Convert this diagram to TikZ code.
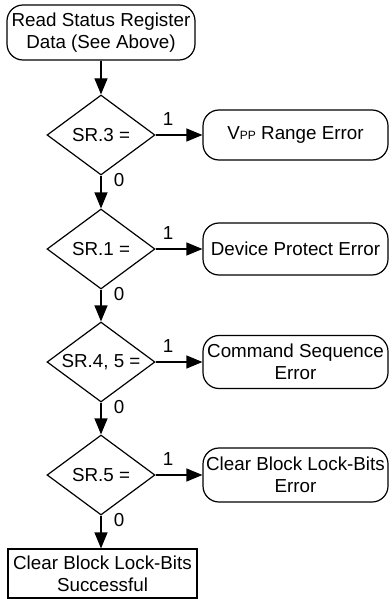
\documentclass[tikz,border=0pt]{standalone}
\usepackage{fontspec}
\setmainfont{Liberation Sans}
\usetikzlibrary{shapes.geometric,arrows.meta}
\tikzset{
  every node/.style={font=\fontsize{18.8}{22}\selectfont},
  rbox/.style={draw, line width=1.2pt, rounded corners=16pt, inner sep=0pt, align=center},
  sbox/.style={draw, line width=1.2pt, inner sep=0pt, align=center},
  dia/.style={draw, line width=1.2pt, diamond, inner sep=0pt, minimum width=108pt, minimum height=80pt},
  arr/.style={line width=1.2pt, -{Triangle[length=16pt,width=13pt]}},
  lbl/.style={inner sep=0pt}
}
\begin{document}
\begin{tikzpicture}[x=1pt,y=-1pt]
\useasboundingbox (0,0) rectangle (391,599);
\node[rbox, minimum width=188pt, minimum height=55pt] (top) at (101,32.5) {Read Status Register\\Data (See Above)};
\node[dia, label={center:SR.3 =}] (d1) at (101,135) {};
\node[dia, label={center:SR.1 =}] (d2) at (101,249) {};
\node[dia, label={center:SR.4, 5 =}] (d3) at (101,362) {};
\node[dia, label={center:SR.5 =}] (d4) at (101,475) {};
\node[rbox, minimum width=185pt, minimum height=50pt] (b1) at (295.5,135) {V{\fontsize{12}{12}\selectfont PP} Range Error};
\node[rbox, minimum width=185pt, minimum height=52pt] (b2) at (295.5,249) {Device Protect Error};
\node[rbox, minimum width=185pt, minimum height=53pt] (b3) at (295.5,362) {Command Sequence\\Error};
\node[rbox, minimum width=185pt, minimum height=54pt] (b4) at (295.5,475) {Clear Block Lock-Bits\\Error};
\node[sbox, minimum width=189pt, minimum height=49pt] (fin) at (102.5,573.5) {Clear Block Lock-Bits\\Successful};
\draw[arr] (top.south -| d1.north) -- (d1.north);
\draw[arr] (d1.south) -- (d2.north);
\draw[arr] (d2.south) -- (d3.north);
\draw[arr] (d3.south) -- (d4.north);
\draw[arr] (d4.south) -- (d4.south |- fin.north);
\draw[arr] (d1.east) -- (b1.west);
\draw[arr] (d2.east) -- (b2.west);
\draw[arr] (d3.east) -- (b3.west);
\draw[arr] (d4.east) -- (b4.west);
\node[lbl] (o1) at (168,119) {1};
\node[lbl] (o2) at (168,233) {1};
\node[lbl] (o3) at (168,346) {1};
\node[lbl] (o4) at (168,459) {1};
\node[lbl] (z1) at (119,180) {0};
\node[lbl] (z2) at (119,294) {0};
\node[lbl] (z3) at (119,407) {0};
\node[lbl] (z4) at (119,520) {0};
\end{tikzpicture}
\end{document}
